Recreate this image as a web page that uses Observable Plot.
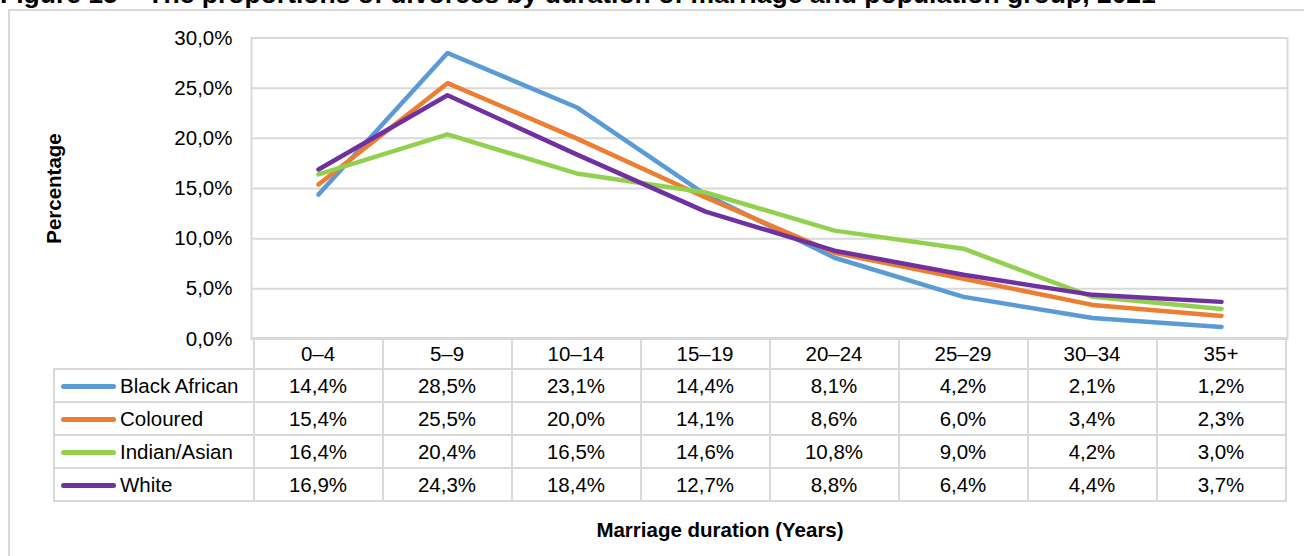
<!DOCTYPE html>
<html><head><meta charset="utf-8">
<script src="https://cdn.jsdelivr.net/npm/d3@7"></script>
<script src="https://cdn.jsdelivr.net/npm/@observablehq/plot@0.6"></script>
<style>
html,body{margin:0;padding:0;background:#fff;}
#root{position:relative;width:1304px;height:556px;overflow:hidden;font-family:"Liberation Sans",Arial,sans-serif;color:#000;}
#frame{position:absolute;left:8px;top:9px;width:1400px;height:700px;border:2px solid #d9d9d9;box-sizing:border-box;}
#title{position:absolute;left:0;top:-19px;font-weight:bold;font-size:26.5px;line-height:26.5px;white-space:nowrap;}
#chart{position:absolute;left:0;top:0;z-index:2;pointer-events:none;}
#tbl{position:absolute;border-collapse:collapse;table-layout:fixed;font-size:20.5px;z-index:1;}
#tbl td{border:2px solid #d9d9d9;padding:0;text-align:center;white-space:nowrap;line-height:20px;}
#tbl td.leg{text-align:left;padding-left:6px;}
#tbl td.blank{border-top:none;border-left:none;}
.sw{display:inline-block;width:55px;height:5px;border-radius:3px;vertical-align:middle;margin-right:4px;position:relative;top:-1px;}
#xtitle{position:absolute;left:0;width:1440px;top:518px;text-align:center;font-weight:bold;font-size:20.5px;line-height:24px;}
</style>
</head><body>
<div id="root">
  <div id="frame"></div>
  <div id="title"></div>
  <div id="chart"></div>
  <div id="xtitle"></div>
</div>
<script>
const titleText = "Figure 15 \u2013 The proportions of divorces by duration of marriage and population group, 2021";
const yLabel = "Percentage";
const xLabel = "Marriage duration (Years)";
const durations = ["0\u20134", "5\u20139", "10\u201314", "15\u201319", "20\u201324", "25\u201329", "30\u201334", "35+"];
const seriesNames = ["Black African", "Coloured", "Indian/Asian", "White"];
const seriesColors = ["#5B9BD5", "#ED7D31", "#92D050", "#7030A0"];
const blackAfrican = [14.4, 28.5, 23.1, 14.4, 8.1, 4.2, 2.1, 1.2];
const coloured = [15.4, 25.5, 20.0, 14.1, 8.6, 6.0, 3.4, 2.3];
const indianAsian = [16.4, 20.4, 16.5, 14.6, 10.8, 9.0, 4.2, 3.0];
const white = [16.9, 24.3, 18.4, 12.7, 8.8, 6.4, 4.4, 3.7];
const yTicks = [0, 5, 10, 15, 20, 25, 30];

const seriesValues = [blackAfrican, coloured, indianAsian, white];
const rows = [];
seriesNames.forEach((s, si) => durations.forEach((d, di) => rows.push({series: s, duration: d, value: seriesValues[si][di]})));
const fmt = v => v.toFixed(1).replace(".", ",") + "%";

document.getElementById("title").textContent = titleText;
document.getElementById("xtitle").textContent = xLabel;

const chart = Plot.plot({
  width: 1304,
  height: 362,
  marginLeft: 251,
  marginRight: 17,
  marginTop: 37.5,
  marginBottom: 23.5,
  style: {fontFamily: "'Liberation Sans', Arial, sans-serif", fontSize: "20.5px", color: "#000", background: "transparent"},
  x: {type: "point", domain: durations, padding: 0.5, axis: null},
  y: {domain: [0, 30]},
  color: {domain: seriesNames, range: seriesColors},
  marks: [
    Plot.gridY(yTicks, {stroke: "#d9d9d9", strokeOpacity: 1, strokeWidth: 2}),
    Plot.frame({stroke: "#d9d9d9", strokeWidth: 2}),
    Plot.axisY(yTicks, {tickSize: 0, tickPadding: 19, tickFormat: fmt, label: null, fontSize: 20.5}),
    Plot.text([yLabel], {frameAnchor: "left", textAnchor: "middle", dx: -197, rotate: -90, fontWeight: "bold", fontSize: 20.5}),
    Plot.line(rows, {x: "duration", y: "value", z: "series", stroke: "series", strokeWidth: 4.5, strokeLinecap: "round", strokeLinejoin: "round"})
  ]
});
document.getElementById("chart").appendChild(chart);

// data table aligned to the chart's x scale
const xs = chart.scale("x");
const step = xs.apply(durations[1]) - xs.apply(durations[0]);
const firstLeft = xs.apply(durations[0]) - step / 2;
const legLeft = 54;
const tbl = document.createElement("table");
tbl.id = "tbl";
tbl.style.left = (legLeft - 1) + "px";
tbl.style.top = "337px";
const cg = document.createElement("colgroup");
const c0 = document.createElement("col"); c0.style.width = (firstLeft - legLeft) + "px"; cg.appendChild(c0);
durations.forEach(() => { const c = document.createElement("col"); c.style.width = step + "px"; cg.appendChild(c); });
tbl.appendChild(cg);
const hr = document.createElement("tr"); hr.style.height = "31px";
const hb = document.createElement("td"); hb.className = "blank"; hr.appendChild(hb);
durations.forEach(d => { const td = document.createElement("td"); td.textContent = d; hr.appendChild(td); });
tbl.appendChild(hr);
seriesNames.forEach((s, si) => {
  const tr = document.createElement("tr"); tr.style.height = "33px";
  const lt = document.createElement("td"); lt.className = "leg";
  const sw = document.createElement("span"); sw.className = "sw"; sw.style.background = chart.scale("color").apply(s);
  lt.appendChild(sw); lt.appendChild(document.createTextNode(s));
  tr.appendChild(lt);
  seriesValues[si].forEach(v => { const td = document.createElement("td"); td.textContent = fmt(v); tr.appendChild(td); });
  tbl.appendChild(tr);
});
document.getElementById("root").appendChild(tbl);
</script>
</body></html>
